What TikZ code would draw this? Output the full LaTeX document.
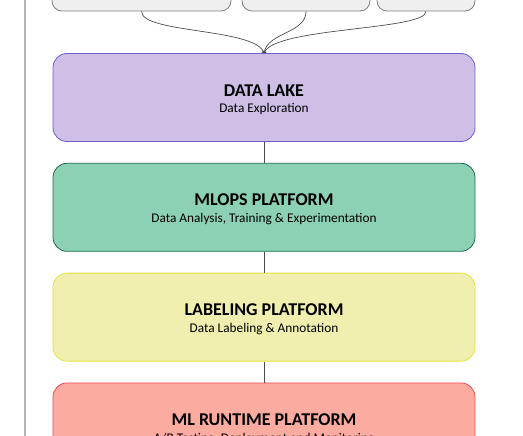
\documentclass[tikz,border=0pt]{standalone}
\usepackage{fontspec}
\setmainfont{Carlito}
\usetikzlibrary{arrows.meta,positioning}
\definecolor{lakefill}{HTML}{CFBFE6}
\definecolor{lakeline}{HTML}{6B5FD6}
\definecolor{opsfill}{HTML}{8DD1B4}
\definecolor{opsline}{HTML}{1E6B50}
\definecolor{labelfill}{HTML}{F1EFAF}
\definecolor{labelline}{HTML}{E3E341}
\definecolor{runfill}{HTML}{FCABA0}
\definecolor{runline}{HTML}{F0485A}
\definecolor{srcfill}{HTML}{EFEFEF}
\definecolor{srcline}{HTML}{7F7F7F}
\definecolor{linkgray}{HTML}{4D4D4D}
\definecolor{railgray}{HTML}{B4B4B4}
\newcommand{\layertext}[2]{{\fontsize{18}{20}\selectfont\bfseries\rule{0pt}{16pt}#1}\\[4.5pt]{\fontsize{13.3}{15}\selectfont #2}}
\tikzset{
    layer/.style={
        draw, line width=0.8pt,
        rounded corners=14pt,
        minimum width=422pt, minimum height=88pt,
        align=center, inner sep=0pt
    },
    source/.style={
        draw=srcline, fill=srcfill, line width=0.8pt,
        rounded corners=10pt, minimum height=40pt
    },
    feed/.style={
        draw=linkgray, line width=0.7pt
    }
}

\begin{document}
\begin{tikzpicture}[x=1pt,y=1pt]
    \useasboundingbox (0,0) rectangle (523,-436);
    \clip (0,0) rectangle (523,-436);
    % side rail
    \draw[railgray, line width=1.8pt] (25,0) -- (25,-436);
    % sources at the top
    \node[source, minimum width=179pt] (srcA) at (141.5,9) {};
    \node[source, minimum width=128pt] (srcB) at (306,9) {};
    \node[source, minimum width=98pt] (srcC) at (426,9) {};
    % platform layers
    \node[layer, fill=lakefill, draw=lakeline] (lake) at (264,-97.5)
        {\layertext{DATA LAKE}{Data Exploration}};
    \node[layer, fill=opsfill, draw=opsline, below=21pt of lake] (mlops)
        {\layertext{MLOPS PLATFORM}{Data Analysis, Training \& Experimentation}};
    \node[layer, fill=labelfill, draw=labelline, below=21pt of mlops] (labeling)
        {\layertext{LABELING PLATFORM}{Data Labeling \& Annotation}};
    \node[layer, fill=runfill, draw=runline, below=21pt of labeling] (runtime)
        {\layertext{ML RUNTIME PLATFORM}{A/B Testing, Deployment and Monitoring}};
    % merge into the lake
    \draw[feed, -{To[length=2pt]}] (srcA.south) .. controls +(0,-22) and +(-9,25) .. (lake.north);
    \draw[feed, -{To[length=2pt]}] (srcB.south) .. controls +(0,-22) and +(4,21) .. (lake.north);
    \draw[feed, -{To[length=2pt]}] (srcC.south) .. controls +(0,-19) and +(11,26) .. (lake.north);
    \draw[feed] (lake) -- (mlops);
    \draw[feed] (mlops) -- (labeling);
    \draw[feed] (labeling) -- (runtime);
\end{tikzpicture}
\end{document}
